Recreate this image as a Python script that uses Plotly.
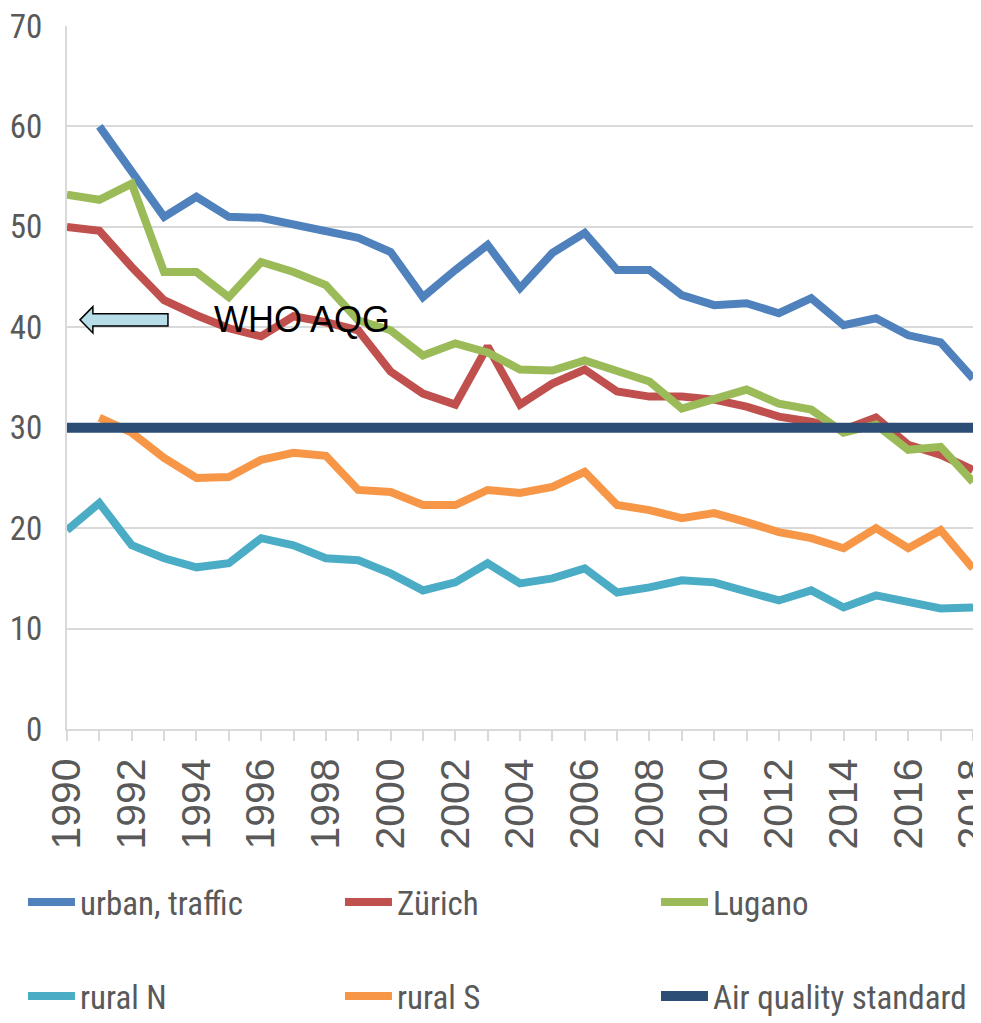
import plotly.graph_objects as go

# years
years = list(range(1990, 2019))

# annual mean NO2 (µg/m3)
urban_traffic = [None, 60.0, 55.4, 51.0, 53.0, 51.0, 50.9, 50.2, 49.4, 48.9, 47.5,
                 43.0, 45.7, 48.2, 43.9, 47.4, 49.4, 45.7, 45.7, 43.2, 42.2,
                 42.4, 41.4, 42.9, 40.2, 40.9, 39.2, 38.5, 34.9]
zurich = [50.0, 49.6, 46.0, 42.7, 41.2, 39.9, 39.1, 41.1, 40.5, 39.7, 35.6,
          33.4, 32.3, 38.1, 32.3, 34.4, 35.8, 33.6, 33.1, 33.1, 32.8,
          32.1, 31.1, 30.6, 29.8, 31.0, 28.3, 27.3, 25.8]
lugano = [53.2, 52.7, 54.3, 45.5, 45.5, 43.0, 46.5, 45.5, 44.2, 40.7, 39.7,
          37.2, 38.4, 37.5, 35.8, 35.7, 36.7, 35.6, 34.6, 31.9, 32.9,
          33.8, 32.4, 31.8, 29.5, 30.3, 27.8, 28.1, 24.6]
rural_n = [19.8, 22.5, 18.3, 17.0, 16.1, 16.5, 19.0, 18.3, 17.0, 16.8, 15.5,
           13.8, 14.6, 16.5, 14.5, 15.0, 16.0, 13.6, 14.1, 14.8, 14.6,
           13.8, 12.8, 13.8, 12.1, 13.3, 12.6, 12.0, 12.1]
rural_s = [None, 31.0, 29.5, 27.0, 25.0, 25.1, 26.8, 27.5, 27.2, 23.8, 23.6,
           22.3, 22.3, 23.8, 23.5, 24.1, 25.6, 22.3, 21.8, 21.0, 21.5,
           20.6, 19.6, 19.0, 18.0, 20.0, 18.0, 19.8, 16.0]
aqs_years = [1990, 2018]
aqs_values = [30, 30]

# (name, values, colour, legend column)
series = [
    ("urban, traffic", urban_traffic, "#4f81bd", "legend"),
    ("Zürich", zurich, "#c0504d", "legend2"),
    ("Lugano", lugano, "#9bbb59", "legend3"),
    ("rural N", rural_n, "#4bacc6", "legend"),
    ("rural S", rural_s, "#f79646", "legend2"),
]

narrow = "Liberation Sans Narrow, Arial Narrow, Roboto Condensed, Liberation Sans, Arial"
grey_txt = "#595959"
grid = "#d9d9d9"

fig = go.Figure()
for name, vals, col, leg in series:
    fig.add_trace(go.Scatter(x=years, y=vals, name=name, mode="lines",
                             line=dict(color=col, width=8), legend=leg,
                             legendgroup=name, connectgaps=False))

fig.add_trace(go.Scatter(x=aqs_years, y=aqs_values, name="Air quality standard",
                         mode="lines", line=dict(color="#2c4d75", width=10),
                         legend="legend3", legendgroup="aqs"))

# WHO AQG block arrow (pointing left) + label
fig.add_shape(type="path", xref="x", yref="y",
              path="M 1990.4,40.74 L 1990.8,42.05 L 1990.8,41.34 L 1993.12,41.34 "
                   "L 1993.12,40.14 L 1990.8,40.14 L 1990.8,39.43 Z",
              fillcolor="#b7dee8", line=dict(color="black", width=1.5), layer="above")
fig.add_annotation(x=1997.25, y=40.74, xref="x", yref="y", text="WHO AQG",
                   showarrow=False, font=dict(family="Liberation Sans, Arial", size=36, color="black"))

leg_common = dict(orientation="v", yanchor="top", y=-0.2063, xanchor="left",
                  font=dict(size=33, family=narrow, color=grey_txt),
                  bgcolor="rgba(0,0,0,0)", itemwidth=47, tracegroupgap=48)

# page body adds an 8px margin, so the figure is 8px smaller than the window
fig.update_layout(
    width=973, height=1015,
    margin=dict(l=59, r=8, t=18, b=294, autoexpand=False),
    plot_bgcolor="white", paper_bgcolor="white",
    font=dict(family=narrow, color=grey_txt),
    legend=dict(x=-0.0486, **leg_common),
    legend2=dict(x=0.3013, **leg_common),
    legend3=dict(x=0.6501, **leg_common),
)

fig.update_xaxes(range=[1989.9999, 2018.0001], dtick=2, tick0=1990, tickangle=-90,
                 showgrid=False, showline=True, linecolor=grid, linewidth=2,
                 ticks="outside", ticklen=10, tickcolor=grid, tickwidth=2,
                 minor=dict(dtick=1, ticks="outside", ticklen=10, tickcolor=grid, tickwidth=2),
                 tickfont=dict(family="Liberation Sans, Arial", size=41, color=grey_txt),
                 ticklabelstandoff=1, ticklabeloverflow="allow",
                 zeroline=False, automargin=False)
fig.update_yaxes(range=[0, 70], dtick=10, showgrid=True, gridcolor=grid, gridwidth=2,
                 showline=True, linecolor=grid, linewidth=2, zeroline=False,
                 tickfont=dict(family=narrow, size=33, color=grey_txt),
                 ticklabelstandoff=16, ticklabeloverflow="allow", automargin=False)

fig.write_html("out.html")
